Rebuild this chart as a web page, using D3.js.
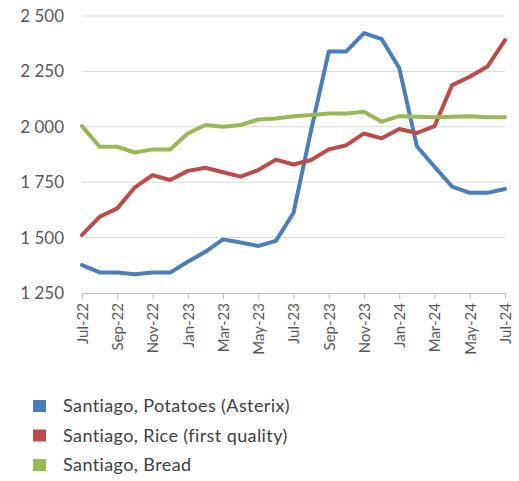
<!DOCTYPE html>
<html>
<head>
<meta charset="utf-8">
<script src="https://cdn.jsdelivr.net/npm/d3@7"></script>
<style>
  body { margin: 0; background: #fff; }
  svg { font-family: Lato, "Open Sans", sans-serif; }
</style>
</head>
<body>
<svg id="chart" width="519" height="481"></svg>
<script>
// months Jul-22 .. Jul-24
let months = ["Jul-22","Aug-22","Sep-22","Oct-22","Nov-22","Dec-22","Jan-23","Feb-23","Mar-23","Apr-23","May-23","Jun-23",
              "Jul-23","Aug-23","Sep-23","Oct-23","Nov-23","Dec-23","Jan-24","Feb-24","Mar-24","Apr-24","May-24","Jun-24","Jul-24"];

let potatoes = [1376,1343,1343,1335,1342,1342,1391,1436,1492,1478,1462,1485,1612,1985,2340,2340,2423,2396,2265,1912,1820,1730,1702,1702,1719];
let rice     = [1512,1594,1632,1727,1782,1760,1801,1815,1795,1775,1805,1852,1830,1850,1898,1917,1970,1948,1990,1972,2003,2188,2226,2272,2391];
let bread    = [2003,1910,1910,1884,1898,1898,1970,2008,2000,2008,2033,2037,2048,2053,2060,2060,2068,2023,2048,2045,2043,2045,2048,2043,2043];

let seriesNames = ["Santiago, Potatoes (Asterix)", "Santiago, Rice (first quality)", "Santiago, Bread"];
let seriesColors = ["#4a7ebb", "#be4b48", "#98b954"];
let yTicks = [1250, 1500, 1750, 2000, 2250, 2500];

let svg = d3.select("#chart");

let xScale = d3.scalePoint()
               .domain(months)
               .range([82, 505]);

let yScale = d3.scaleLinear()
               .domain([1250, 2500])
               .range([293, 16]);

let fmt = d3.formatLocale({decimal: ".", thousands: " ", grouping: [3], currency: ["", ""]}).format(",");

// gridlines
svg.append("g")
   .selectAll("line")
   .data(yTicks.slice(1))
   .enter()
   .append("line")
   .attr("x1", 82)
   .attr("x2", 505)
   .attr("y1", d => yScale(d))
   .attr("y2", d => yScale(d))
   .attr("stroke", "#d9d9d9")
   .attr("stroke-width", 1);

// y labels
let yAxis = d3.axisLeft(yScale)
              .tickValues(yTicks)
              .tickSize(0)
              .tickPadding(18)
              .tickFormat(fmt);

let yG = svg.append("g")
            .attr("transform", "translate(82,0)")
            .call(yAxis);
yG.select(".domain").remove();
yG.selectAll("text")
  .attr("fill", "#595959")
  .style("font-size", "17px")
  .style("font-family", "Lato, sans-serif");

// x axis
let xAxis = d3.axisBottom(xScale)
              .tickValues(months.filter((d, i) => i % 2 === 0))
              .tickSize(6)
              .tickSizeOuter(0);

let xG = svg.append("g")
            .attr("transform", "translate(0," + yScale(1250) + ")")
            .call(xAxis);
xG.select(".domain").attr("stroke", "#bfbfbf");
xG.selectAll(".tick line").attr("stroke", "#bfbfbf");
xG.selectAll("text")
  .attr("fill", "#595959")
  .style("font-size", "15px")
  .style("font-family", "Lato, sans-serif")
  .attr("text-anchor", "end")
  .attr("transform", "translate(0,2) rotate(-90)")
  .attr("x", -8)
  .attr("y", 0)
  .attr("dy", "0.35em");

// lines
let lineGen = d3.line()
                .x((d, i) => xScale(months[i]))
                .y(d => yScale(d));

let allSeries = [potatoes, rice, bread];

svg.append("g")
   .selectAll("path")
   .data(allSeries)
   .enter()
   .append("path")
   .attr("d", d => lineGen(d))
   .attr("fill", "none")
   .attr("stroke", (d, i) => seriesColors[i])
   .attr("stroke-width", 4)
   .attr("stroke-linejoin", "round")
   .attr("stroke-linecap", "round");

// legend
let legend = svg.append("g")
                .attr("transform", "translate(33,400)");

let rows = legend.selectAll("g")
                 .data(seriesNames)
                 .enter()
                 .append("g")
                 .attr("transform", (d, i) => "translate(0," + (i * 29.5) + ")");

rows.append("rect")
    .attr("width", 13)
    .attr("height", 12)
    .attr("fill", (d, i) => seriesColors[i]);

rows.append("text")
    .attr("x", 30)
    .attr("y", 6)
    .attr("dy", "0.35em")
    .attr("fill", "#404040")
    .style("font-size", "18px")
    .style("letter-spacing", "0.4px")
    .text(d => d);
</script>
</body>
</html>
